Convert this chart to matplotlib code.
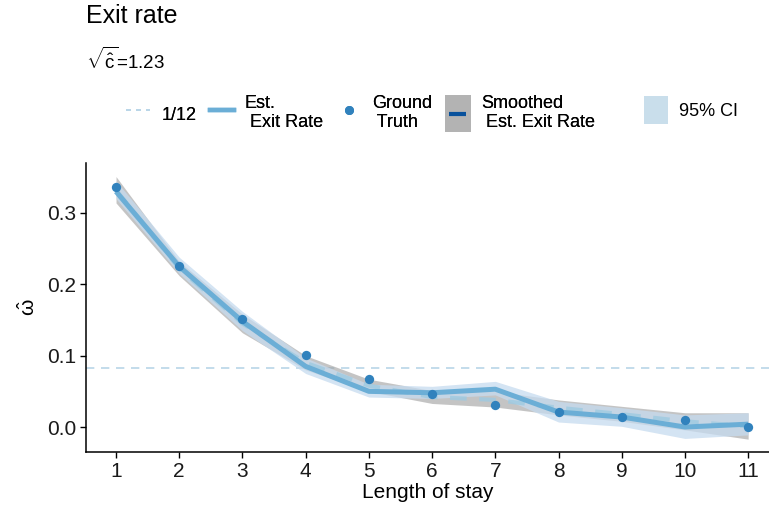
import matplotlib
matplotlib.use("Agg")
import matplotlib.pyplot as plt
from matplotlib.lines import Line2D
from matplotlib.patches import Patch, Rectangle
from matplotlib.legend_handler import HandlerBase

plt.rcParams['font.family'] = ['Liberation Sans', 'DejaVu Sans']
plt.rcParams['mathtext.fontset'] = 'custom'
plt.rcParams['mathtext.rm'] = 'Liberation Sans'
plt.rcParams['mathtext.it'] = 'Liberation Sans'
plt.rcParams['mathtext.bf'] = 'Liberation Sans:bold'

length_of_stay = [1, 2, 3, 4, 5, 6, 7, 8, 9, 10, 11]
ground_truth = [0.337, 0.226, 0.151, 0.101, 0.067, 0.046, 0.031, 0.021, 0.014, 0.010, 0.000]
est_rate = [0.330, 0.225, 0.148, 0.085, 0.050, 0.048, 0.053, 0.021, 0.014, 0.000, 0.004]
est_lo = [0.320, 0.215, 0.135, 0.075, 0.042, 0.040, 0.045, 0.007, 0.001, -0.016, -0.011]
est_hi = [0.345, 0.238, 0.162, 0.097, 0.060, 0.057, 0.064, 0.036, 0.027, 0.017, 0.020]
smooth_rate = [0.332, 0.222, 0.145, 0.090, 0.058, 0.042, 0.038, 0.027, 0.018, 0.008, 0.001]
smooth_lo = [0.314, 0.212, 0.132, 0.080, 0.050, 0.033, 0.028, 0.017, 0.008, -0.004, -0.017]
smooth_hi = [0.351, 0.232, 0.158, 0.100, 0.067, 0.051, 0.050, 0.038, 0.029, 0.020, 0.020]
ref_rate = 1 / 12


class BoxHandler(HandlerBase):
    """Legend key: a box of given size (points) with optional short line."""
    def __init__(self, w, h, face, line_color=None, line_len=0, line_w=3):
        super().__init__()
        self.w, self.h, self.face = w, h, face
        self.line_color, self.line_len, self.line_w = line_color, line_len, line_w

    def create_artists(self, legend, orig_handle, xdescent, ydescent, width, height,
                       fontsize, trans):
        cx = -xdescent + width / 2
        cy = -ydescent + height / 2
        arts = [Rectangle((cx - self.w / 2, cy - self.h / 2), self.w, self.h,
                          facecolor=self.face, edgecolor='none', transform=trans)]
        if self.line_color:
            arts.append(Line2D([cx - self.line_len / 2, cx + self.line_len / 2], [cy, cy],
                               color=self.line_color, lw=self.line_w,
                               solid_capstyle='butt', transform=trans))
        return arts


fig = plt.figure(figsize=(7.69, 5.14), dpi=100)
ax = fig.add_axes([86/769, 1 - 452/514, 1 - 86/769, (452 - 163)/514])

ax.axhline(ref_rate, color='#B9D5E8', lw=1.2, ls=(0, (5, 4)), zorder=1)
ax.fill_between(length_of_stay, smooth_lo, smooth_hi, color='#9E9E9E', alpha=0.6, lw=0, zorder=2)
ax.fill_between(length_of_stay, est_lo, est_hi, color='#C6DBEF', alpha=0.75, lw=0, zorder=3)
ax.plot(length_of_stay, smooth_rate, color='#9ECAE1', lw=3, ls=(0, (4, 3)), alpha=0.8, zorder=4)
ax.plot(length_of_stay, est_rate, color='#6BAED6', lw=3.6, zorder=5, solid_capstyle='butt')
ax.scatter(length_of_stay, ground_truth, s=45, color='#3182BD', zorder=6, lw=0)

ax.set_xlim(0.525, 11.33)
ax.set_ylim(-0.035, 0.370)
ax.set_xticks(length_of_stay)
ax.set_yticks([0.0, 0.1, 0.2, 0.3])
ax.set_yticklabels(['0.0', '0.1', '0.2', '0.3'])
ax.spines['top'].set_visible(False)
ax.spines['right'].set_visible(False)
ax.tick_params(axis='both', labelsize=15, length=4, width=1, colors='black',
               labelcolor='#1a1a1a', pad=3)
ax.spines['left'].set_linewidth(1.1)
ax.spines['bottom'].set_linewidth(1.1)
ax.set_xlabel('Length of stay', fontsize=15, labelpad=2)
ax.set_ylabel(r'$\hat{\omega}$', fontsize=15, labelpad=6)

fig.text(86/769, 1 - 16/514, 'Exit rate', fontsize=18, va='center', ha='left')
fig.text(86/769, 1 - 60/514, r'$\sqrt{\hat{\mathrm{c}}}$=1.23', fontsize=13.5, va='center', ha='left')

h_ref = Line2D([], [], color='#B9D5E8', lw=1.2, ls=(0, (3, 3)))
h_est = Line2D([], [], color='#6BAED6', lw=3.2)
h_gt = Line2D([], [], color='#3182BD', marker='o', ls='none', markersize=6.5, markeredgewidth=0)
h_sm = Patch(facecolor='#B3B3B3')
h_ci = Patch(facecolor='#C6DBEF')

legkw = dict(frameon=False, fontsize=13, handlelength=1.35, handleheight=1.9,
             handletextpad=0.6, labelspacing=0.2, borderpad=0, borderaxespad=0,
             columnspacing=0.75, loc='center left')
leg1 = fig.legend([h_ref, h_est, h_gt, h_sm],
                  ['1/12', 'Est.\n Exit Rate', 'Ground\n Truth', 'Smoothed\n Est. Exit Rate'],
                  handler_map={h_sm: BoxHandler(18.7, 26.6, '#B3B3B3', '#08519C', 12.5, 3)},
                  bbox_to_anchor=(126/769, 1 - 113/514), ncol=4, **legkw)
fig.add_artist(leg1)
leg2 = fig.legend([h_ci], ['95% CI'],
                  handler_map={h_ci: BoxHandler(17.3, 20.2, '#C9DEEB')},
                  bbox_to_anchor=(644/769, 1 - 110/514), ncol=1, **legkw)

fig.savefig('out.png', dpi=100)
